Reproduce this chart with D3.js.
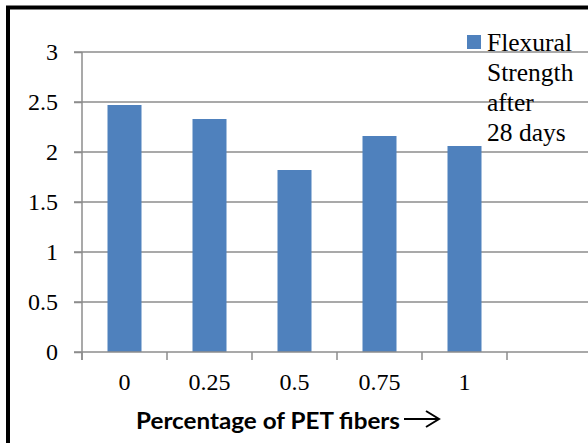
<!DOCTYPE html>
<html><head><meta charset="utf-8">
<script src="https://cdn.jsdelivr.net/npm/d3@7"></script>
<style>html,body{margin:0;padding:0;background:#fff;overflow:hidden}
.serif{font-family:"Liberation Serif","DejaVu Serif",serif}</style>
</head><body>
<svg id="c" width="588" height="443"></svg>
<script>
const categories = ["0", "0.25", "0.5", "0.75", "1", ""];
const values = [2.47, 2.33, 1.82, 2.16, 2.06];
const yTicks = [0, 0.5, 1, 1.5, 2, 2.5, 3];
const seriesName = ["Flexural", "Strength", "after", "28 days"];
const xTitle = "Percentage of PET fibers";

const svg = d3.select("#c");

const xs = d3.scaleBand().domain(categories).range([82, 592]);
const y = d3.scaleLinear().domain([0, 3]).range([352, 52]);

// gridlines
svg.append("g").selectAll("line").data(yTicks.slice(1)).join("line")
  .attr("x1", 74).attr("x2", 600).attr("y1", d => y(d)).attr("y2", d => y(d))
  .attr("stroke", "#8c8c8c").attr("stroke-width", 1.5);

// bars
svg.append("g").selectAll("rect").data(values).join("rect")
  .attr("x", (d, i) => xs(categories[i]) + xs.bandwidth() / 2 - 17)
  .attr("width", 34)
  .attr("y", d => y(d)).attr("height", d => y(0) - y(d))
  .attr("fill", "#4f81bd");

// y axis
const yAxis = d3.axisLeft(y).tickValues(yTicks).tickSize(8).tickPadding(16).tickFormat(d3.format("~g"));
const gy = svg.append("g").attr("transform", "translate(82,0)").call(yAxis);
gy.attr("font-family", null).attr("font-size", null);
gy.select(".domain").remove();
gy.append("line").attr("x1", 0).attr("x2", 0).attr("y1", 52).attr("y2", 360).attr("stroke", "#8c8c8c").attr("stroke-width", 1.5);
gy.selectAll(".tick line").attr("stroke", "#8c8c8c").attr("stroke-width", 1.5);
gy.selectAll(".tick text").attr("class", "serif").style("font-size", "24px").attr("fill", "#000").attr("dy", "0.33em");

// x axis
const xAxis = d3.axisBottom(xs).tickSize(0).tickPadding(0);
const gx = svg.append("g").attr("transform", "translate(0,352)").call(xAxis);
gx.attr("font-family", null).attr("font-size", null);
gx.select(".domain").remove();
gx.append("line").attr("x1", 74).attr("x2", 600).attr("y1", 0).attr("y2", 0).attr("stroke", "#8c8c8c").attr("stroke-width", 1.5);
gx.selectAll(".tick text").attr("class", "serif").style("font-size", "24px").attr("fill", "#000").attr("y", 38).attr("dy", 0);
const bounds = categories.map(c => xs(c)).concat([xs.range()[1]]);
gx.append("g").selectAll("line").data(bounds).join("line")
  .attr("x1", d => d).attr("x2", d => d).attr("y1", 0).attr("y2", 8)
  .attr("stroke", "#8c8c8c").attr("stroke-width", 1.5);

// x title
svg.append("text").attr("x", 136).attr("y", 429)
  .style("font-family", "Lato, 'Open Sans', sans-serif").style("font-weight", "bold").style("font-size", "22px")
  .attr("textLength", 264).attr("lengthAdjust", "spacingAndGlyphs")
  .attr("fill", "#000").text(xTitle);
svg.append("path").attr("d", "M404,419 L438,419 M426,411 L439,419 L426,427")
  .attr("fill", "none").attr("stroke", "#000").attr("stroke-width", 2);

// legend
svg.append("rect").attr("x", 467).attr("y", 35).attr("width", 14).attr("height", 14).attr("fill", "#4f81bd");
svg.append("g").selectAll("text").data(seriesName).join("text")
  .attr("class", "serif").style("font-size", "25.5px")
  .attr("x", 487).attr("y", (d, i) => 51 + i * 30)
  .attr("fill", "#000").text(d => d);

// frame
svg.append("rect").attr("x", 8).attr("y", 7.5).attr("width", 700).attr("height", 700)
  .attr("fill", "none").attr("stroke", "#000").attr("stroke-width", 4);
</script>
</body></html>
